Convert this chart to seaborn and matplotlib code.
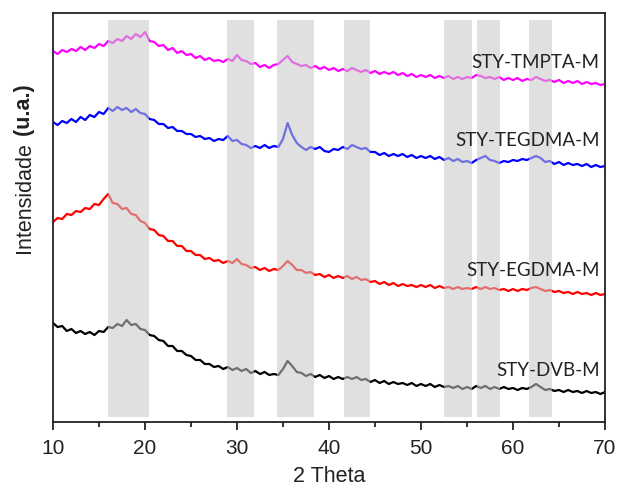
import numpy as np
import pandas as pd
import matplotlib
matplotlib.use("Agg")
import matplotlib.pyplot as plt
import seaborn as sns

# 2-theta grid (0.5 deg steps, 10..70)
two_theta = [10 + 0.5 * i for i in range(121)]

tmpta = [371, 368, 372, 370, 373, 371, 375, 372, 376, 374, 378, 376, 381, 379, 383, 381,
         386, 383, 388, 385, 390, 381, 380, 376, 377, 372, 374, 369, 371, 367, 368, 364,
         366, 362, 364, 361, 362, 360, 363, 361, 367, 362, 361, 358, 359, 355, 357, 354,
         357, 358, 362, 366, 360, 358, 356, 357, 354, 356, 353, 355, 352, 354, 351, 353,
         351, 354, 352, 350, 352, 349, 351, 348, 350, 348, 350, 347, 349, 346, 348, 345,
         347, 345, 347, 344, 346, 344, 346, 343, 345, 343, 345, 344, 347, 346, 344, 345,
         343, 345, 342, 344, 342, 344, 341, 343, 342, 345, 343, 341, 342, 340, 342, 339,
         341, 339, 341, 338, 340, 338, 339, 337, 338]

tegdma = [300, 297, 301, 299, 303, 300, 305, 302, 307, 305, 310, 308, 314, 311, 315, 312,
          314, 310, 313, 309, 308, 303, 302, 298, 298, 294, 295, 291, 291, 288, 288, 285,
          286, 283, 284, 281, 283, 282, 286, 281, 282, 278, 277, 274, 276, 274, 277, 274,
          276, 275, 283, 299, 287, 279, 275, 272, 275, 273, 275, 271, 270, 273, 272, 275,
          273, 277, 275, 273, 274, 270, 270, 267, 269, 266, 268, 266, 268, 265, 267, 264,
          266, 264, 266, 263, 265, 262, 264, 261, 263, 260, 261, 259, 262, 264, 266, 262,
          261, 259, 261, 260, 262, 261, 263, 262, 264, 266, 264, 260, 261, 258, 260, 257,
          259, 257, 258, 256, 258, 255, 257, 255, 256]

egdma = [200, 204, 203, 208, 207, 211, 210, 214, 213, 218, 217, 223, 228, 219, 218, 213,
         214, 208, 207, 201, 199, 193, 192, 187, 186, 181, 181, 176, 176, 171, 171, 167,
         167, 163, 164, 161, 162, 159, 161, 159, 163, 158, 157, 154, 155, 152, 154, 151,
         153, 152, 156, 161, 157, 152, 152, 149, 150, 147, 148, 145, 147, 144, 146, 144,
         146, 143, 145, 142, 143, 140, 141, 138, 140, 137, 139, 136, 138, 136, 137, 135,
         137, 135, 137, 134, 136, 134, 135, 133, 135, 133, 134, 133, 135, 133, 135, 133,
         134, 132, 133, 131, 133, 131, 133, 132, 134, 135, 133, 131, 132, 130, 131, 129,
         130, 128, 130, 128, 129, 127, 129, 127, 128]

dvb = [99, 95, 96, 91, 93, 89, 91, 88, 90, 87, 91, 90, 95, 94, 98, 96,
       102, 97, 98, 93, 92, 87, 86, 82, 81, 76, 76, 71, 71, 67, 66, 62,
       62, 58, 58, 55, 56, 53, 55, 52, 54, 51, 53, 49, 51, 48, 50, 47,
       48, 47, 53, 61, 56, 50, 49, 46, 48, 45, 47, 44, 46, 43, 45, 43,
       45, 43, 45, 42, 43, 40, 42, 39, 41, 38, 40, 38, 39, 37, 39, 36,
       38, 36, 38, 35, 37, 35, 36, 34, 36, 33, 35, 33, 36, 34, 36, 33,
       35, 33, 35, 33, 34, 32, 34, 33, 35, 38, 35, 32, 33, 31, 32, 30,
       32, 30, 31, 29, 31, 29, 30, 28, 30]

series_names = ["STY-TMPTA-M", "STY-TEGDMA-M", "STY-EGDMA-M", "STY-DVB-M"]
series_colors = ["#FF00FF", "#0000FF", "#FF0000", "#000000"]
label_y = [360, 281, 151, 52]

bands = [(16.0, 20.4), (28.9, 31.8), (34.4, 38.4), (41.6, 44.5),
         (52.5, 55.5), (56.05, 58.6), (61.7, 64.2)]

xticks = [10, 20, 30, 40, 50, 60, 70]

df = pd.DataFrame({
    "2theta": two_theta * 4,
    "I": tmpta + tegdma + egdma + dvb,
    "sample": sum([[n] * len(two_theta) for n in series_names], []),
})

sns.set_style("ticks")
plt.rcParams["font.family"] = ["Liberation Sans", "DejaVu Sans"]

fig = plt.figure(figsize=(6.17, 4.88), dpi=100)
ax = fig.add_axes([53 / 617, 1 - 422 / 488, 552 / 617, 409 / 488])

sns.lineplot(data=df, x="2theta", y="I", hue="sample", palette=dict(zip(series_names, series_colors)),
             linewidth=1.6, ax=ax, legend=False, estimator=None, sort=False)

for a, b in bands:
    ax.axvspan(a, b, ymin=0.013, ymax=0.983, color="#C8C8C8", alpha=0.56, lw=0, zorder=3)

for name, yv in zip(series_names, label_y):
    ax.text(69.4, yv, name, ha="right", va="center", fontsize=13.5,
            family=["Lato", "DejaVu Sans"], color="#222222", zorder=4)

ax.set_xlim(10, 70)
ax.set_ylim(0, 409)
ax.set_xticks(xticks)
ax.set_xticks([15, 25, 35, 45, 55, 65], minor=True)
ax.set_yticks([])
ax.tick_params(axis="x", which="major", length=6, width=1.3, labelsize=15, pad=6, colors="#222222")
ax.tick_params(axis="x", which="minor", length=3.5, width=1.3)
for s in ax.spines.values():
    s.set_linewidth(1.3)
    s.set_color("#222222")

ax.set_xlabel("2 Theta", fontsize=15.5, labelpad=6, color="#222222")
ax.set_ylabel("")
fig.text(0.04, 0.709, "Intensidade", rotation=90, ha="center", va="top", fontsize=15.5, color="#222222")
fig.text(0.04, 0.709, " (u.a.)", rotation=90, ha="center", va="bottom", fontsize=15.5,
         fontweight="bold", color="#222222")

fig.savefig("out.png", dpi=100)
